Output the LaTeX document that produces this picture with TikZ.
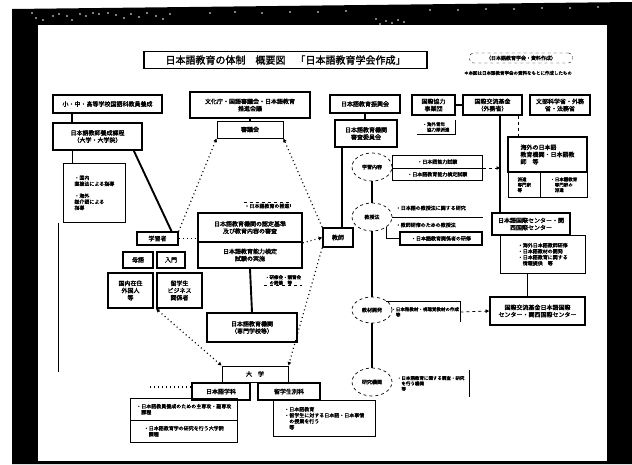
\documentclass[tikz,border=0pt]{standalone}
\usepackage{fontspec}
\newfontfamily\jp[FakeBold=1.6]{Noto Sans CJK JP}
\usetikzlibrary{shapes.geometric,arrows.meta,calc}
\begin{document}
\begin{tikzpicture}[x=1pt,y=-1pt,
 every node/.style={font=\jp\fontsize{6}{7.2}\selectfont, inner sep=0.6pt},
 sm/.style={font=\jp\fontsize{5}{6}\selectfont},
 xs/.style={font=\jp\fontsize{4.5}{5.4}\selectfont},
 tb/.style={draw, line width=1.7pt, align=center},
 nb/.style={draw, line width=1pt, align=center},
 br/.style={draw, line width=0.6pt, align=left, sm},
 el/.style={ellipse, draw, dashed, line width=0.7pt, inner sep=0pt, sm},
 con/.style={line width=1.9pt},
 thinl/.style={line width=0.8pt},
 dotl/.style={dash pattern=on 1pt off 3pt, line width=1.2pt},
 tip/.style={-{Triangle[length=3.5pt,width=3.5pt]}},
 sz/.style 2 args={minimum width=#1pt, minimum height=#2pt}
]
\useasboundingbox (0,0) rectangle (632,464);
% frame
\fill[white] (0,0) rectangle (632,464);
\fill[black] (12,9) -- (632,2) -- (632,464) -- (12,464) -- cycle;
\fill[white] (38,25) rectangle (607,461);
\foreach \px/\py in {32/13,36/18,43/20,53/16,59/14,67/16,72/20,80/14,86/16,93/13,99/14,108/13,116/15,
  124/18,131/14,139/17,147/13,156/16,163/19,170/14,210/13,235/12,262/13,290/12,318/12,346/11,
  376/19,380/24,386/21,392/23,398/20,404/22,430/10,458/10,486/9,514/9,542/8,570/8,598/7}
  \fill[white] (\px,\py) circle (0.8);

% title and note
\node[draw, line width=1.4pt, sz={283}{17}, font=\jp\fontsize{10}{12}\selectfont] (title) at (285.5,60)
  {日本語教育の体制　概要図　「日本語教育学会作成」};
\node[draw, dashed, rounded corners=4pt, sz={103}{10}, sm] (lbl) at (521,58) {（日本語教育学会・資料作成）};
\node[xs] (note) at (518,73) {＊本図は日本語教育学会の資料をもとに作成したもの};

% left column
\node[tb, sz={109}{18}] (A1) at (107.5,104) {小・中・高等学校国語科教員養成};
\node[tb, sz={89}{27}] (A2) at (97.5,136.5) {日本語教師養成課程\\（大学・大学院）};
\node[br, sz={62}{59}, anchor=north west] (AL) at (63,163) {・国内\\直接法による指導\\\\・海外\\媒介語による\\指導};
\node[tb, line width=1.2pt, sz={41}{13}] (B) at (157.5,238.5) {学習者};
\node[tb, sz={30}{16}] (B1) at (138,260) {母語};
\node[tb, sz={28}{16}] (B2) at (171,260) {入門};
\node[tb, sz={45}{35}] (B3) at (130.5,290.5) {国内在住\\外国人\\等};
\node[tb, sz={45}{35}] (B4) at (179.5,290.5) {留学生\\ビジネス\\関係者};

% centre column
\node[tb, sz={120}{26}] (C1) at (250,105) {文化庁・国語審議会・日本語教育\\推進会議};
\node[nb, sz={66}{17}] (C2) at (250,129.5) {審議会};
\node[sm] (Elab) at (267,206) {・日本語教育の推進};
\node[tb, sz={104}{29}] (E1) at (250,227.5) {日本語教育機関の認定基準\\及び教育内容の審査};
\node[tb, sz={104}{26}] (E2) at (250,255) {日本語教育能力検定\\試験の実施};
\node[xs, align=left] (Fn) at (283,280) {・研修会・講習会\\　の開催　等};
\node[tb, sz={90}{29}] (F) at (252,327.5) {日本語教育機関\\（専門学校等）};
\node[nb, sz={66}{16}] (G) at (255,374) {大　学};
\node[tb, sz={58}{17}] (G1) at (221,391.5) {日本語学科};
\node[tb, sz={62}{17}] (G2) at (289,391.5) {留学生別科};
\node[br, sz={107}{22}, anchor=north west] (G1a) at (130,398) {・日本語教員養成のための主専攻・副専攻\\　課程};
\node[br, sz={107}{22}, anchor=north west] (G1b) at (130,420) {・日本語教育学の研究を行う大学院\\　課程};
\node[br, sz={102}{36}, anchor=north west] (G2L) at (273,400) {・日本語教育\\・留学生に対する日本語・日本事情\\　の授業を行う\\　等};

% right-centre column
\node[tb, sz={70}{18}] (H1) at (365,104) {日本語教育振興会};
\node[tb, sz={62}{27}] (H2) at (366,133.5) {日本語教育機関\\審査委員会};
\node[tb, sz={30}{19}] (D) at (338,237.5) {教師};
\node[el, sz={40}{28}] (J1) at (372,167) {学習内容};
\node[el, sz={40}{28}] (J2) at (372,217) {教授法};
\node[el, sz={40}{26}] (J3) at (372,310) {教材開発};
\node[el, sz={40}{28}] (J4) at (372,382) {研究機関};
\node[br, sz={90}{13}, anchor=north west] (J1a) at (392,155) {・日本語能力試験};
\node[br, sz={90}{12}, anchor=north west] (J1b) at (392,168) {・日本語教育能力検定試験};
\node[sm, anchor=west] (J2a) at (395,208) {・日本語の教授法に関する研究};
\node[sm, anchor=west] (J2b) at (395,225) {・教師研修のための教授法};
\node[draw, line width=1.1pt, sz={82}{13}, sm] (J2c) at (441,238.5) {・日本語教育関係者の研修};
\node[xs, align=left, anchor=west, sz={70}{20}] (J3t) at (390,312) {・日本語教材・視聴覚教材の作成\\　等};
\node[xs, align=left, anchor=west, sz={77}{27}] (J4t) at (392,383.5) {・日本語教育に関する調査・研究\\　を行う機関\\　等};

% right column
\node[tb, sz={43}{20}] (L1) at (433.5,105) {国際協力\\事業団};
\node[xs, align=left, sz={38}{14}] (L1t) at (436,127) {・海外青年\\　協力隊派遣};
\node[tb, sz={59}{20}] (L2) at (492.5,105) {国際交流基金\\（外務省）};
\node[tb, sz={60}{20}] (L3) at (560,105) {文部科学省・外務\\省・法務省};
\node[tb, sz={79}{35}, align=left] (N) at (547.5,154.5) {海外の日本語\\教育機関・日本語教\\師　等};
\node[br, xs, sz={32}{25}, anchor=north west] (N1) at (508,172) {派遣\\専門家\\等};
\node[br, xs, sz={47}{25}, anchor=north west] (N2) at (540,172) {・日本語教育\\　専門家の\\　派遣};
\node[nb, line width=1.2pt, sz={78}{22}] (M) at (531,224) {日本語国際センター・関\\西国際センター};
\node[br, sz={85}{38}, anchor=north west] (ML) at (500,235) {・海外日本語教師研修\\・日本語教材の開発\\・日本語教育に関する\\　情報提供　等};
\node[tb, sz={95}{28}] (K) at (537.5,311) {国際交流基金日本語国際\\センター・関西国際センター};

% helper coordinates
\coordinate (xa) at (72,0);
\coordinate (xl) at (58,0);
\coordinate (alend) at (58,372);
\coordinate (xd) at (342,0);
\coordinate (vx) at (500,0);
\coordinate (nx) at (518,0);
\coordinate (kx) at (527,0);
\coordinate (gl) at (150,387);

% solid connectors
\draw[con] (xa |- A1.south) -- (xa |- A2.north);
\draw[thinl] (xa |- A2.south) -- (xa |- AL.north);
\draw[thinl] (xl |- AL.south) -- (alend);
\draw[con] ($(A2.south east)+(-9,0)$) -- ($(B.north east)+(-7,0)$);
\draw[con] (C1.south) -- (C2.north);
\draw[con] (H1.south) -- (H1.south |- H2.north);
\draw[con] (xd |- H2.south) -- (xd |- D.north);
\draw[con] (J1.south) -- (J2.north);
\draw[con] (J2.south) -- (J3.north);
\draw[con] (J3.south) -- (J4.north);
\draw[con] (E2.south) -- (F.north);
\draw[line width=1.1pt] (L1.east) -- (L2.west);
\draw[line width=1.3pt] (vx |- L2.south) -- (vx |- M.north);
\draw[dashed, line width=0.9pt] (nx |- L2.south) -- (nx |- N.north);
\draw[thinl] (kx |- ML.south) -- (kx |- K.north);
\draw[thinl] (J1.east) -- (J1a.west |- J1.east);
\draw[thinl] (J2.east) -- (J2.east -| J2c.east);
\draw[thinl] (J2.south east) |- (J2c.west);
\draw[thinl] (J3.north east) |- (J3t.north west) -- (J3t.north east) -- (J3t.south east);
\draw[thinl] (J4t.north east) -- (J4t.south east);
\draw[thinl] (L1t.south west) -- (L1t.south east) -- (L1t.north east);
\draw[dashed, thinl] (Elab.north west) -- (Elab.north east) -- (Elab.south east);
\draw[dashed, thinl] (Fn.south west) -- (Fn.south east);
\draw[line width=1.3pt] (G2L.north east) -- (G2L.south east);

% dotted / dashed connectors
\draw[dashed, thinl, tip] (J1b.north east) -- (vx |- J1b.north east);
\draw[dashed, thinl, tip] (J3t.east) -- (K.west);
\draw[dotl, tip] (B.north east) -- (C2.south west);
\draw[dotl, tip] (D.north west) -- (C2.south east);
\draw[dotl] (B.east) -- (B.east -| E1.west);
\draw[dotl, tip] (E1.south east) -- (D.west);
\draw[dotl, tip] (D.south west) -- (G.north east);
\draw[dotl, {Triangle[length=3.5pt,width=3.5pt]}-{Triangle[length=3.5pt,width=3.5pt]}] (B4.south west) -- (G.north west);
\draw[dotl] (gl) -- (gl -| G1.west);
\end{tikzpicture}
\end{document}
